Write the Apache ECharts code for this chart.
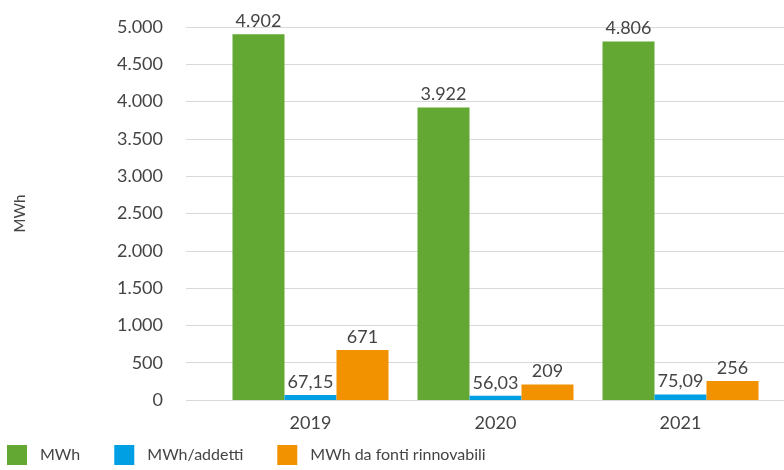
<!DOCTYPE html>
<html>
<head>
<meta charset="utf-8">
<script src="https://cdn.jsdelivr.net/npm/echarts@6/dist/echarts.min.js"></script>
<style>
  html, body { margin: 0; padding: 0; background: #fff; }
  #chart { width: 784px; height: 470px; }
</style>
</head>
<body>
<div id="chart"></div>
<script>
const years = ['2019', '2020', '2021'];
const mwh = [4902, 3922, 4806];
const mwhAddetti = [67.15, 56.03, 75.09];
const mwhRinnovabili = [671, 209, 256];
const yTicks = { min: 0, max: 5000, interval: 500 };

const FONT = 'Lato, "Noto Sans", sans-serif';
const TEXT = '#444';

// formato italiano: 4.902 / 67,15
function fmtIt(v) {
    let parts = (Math.round(v * 100) / 100).toString().split('.');
    let int = parts[0].replace(/\B(?=(\d{3})+(?!\d))/g, '.');
    return parts[1] ? int + ',' + (parts[1].length === 1 ? parts[1] + '0' : parts[1]) : int;
}

const chart = echarts.init(document.getElementById('chart'));

const barLabel = {
    show: true,
    position: 'top',
    distance: 4,
    color: TEXT,
    fontSize: 18,
    fontFamily: FONT,
    formatter: p => fmtIt(p.value)
};

const option = {
    backgroundColor: '#fff',
    animation: false,
    textStyle: { fontFamily: FONT },
    grid: [
        // griglia di sfondo: solo linee ed etichette asse y
        { left: 186, right: 0, top: 27, bottom: 70 },
        // griglia delle barre
        { left: 218, right: 11, top: 27, bottom: 70 }
    ],
    legend: {
        left: 2,
        bottom: 0,
        itemWidth: 20,
        itemHeight: 20,
        itemGap: 34,
        icon: 'rect',
        textStyle: { color: TEXT, fontSize: 16, fontFamily: FONT, padding: [0, 0, 0, 8] },
        data: ['MWh', 'MWh/addetti', 'MWh da fonti rinnovabili']
    },
    xAxis: [
        { gridIndex: 0, type: 'value', show: false, min: 0, max: 1 },
        {
            gridIndex: 1,
            type: 'category',
            data: years,
            axisLine: { show: false },
            axisTick: { show: false },
            axisLabel: { color: TEXT, fontSize: 18, fontFamily: FONT, margin: 14 }
        }
    ],
    yAxis: [
        {
            gridIndex: 0,
            type: 'value',
            min: yTicks.min,
            max: yTicks.max,
            interval: yTicks.interval,
            name: 'MWh',
            nameLocation: 'middle',
            nameGap: 158,
            nameRotate: 90,
            nameTextStyle: { color: TEXT, fontSize: 15, fontFamily: FONT },
            axisLine: { show: false },
            axisTick: { show: false },
            axisLabel: { color: TEXT, fontSize: 18, fontFamily: FONT, margin: 23, formatter: v => fmtIt(v) },
            splitLine: { lineStyle: { color: '#d9d9d9', width: 1 } }
        },
        {
            gridIndex: 1,
            type: 'value',
            min: yTicks.min,
            max: yTicks.max,
            interval: yTicks.interval,
            show: false,
            splitLine: { show: false }
        }
    ],
    series: [
        {
            name: 'MWh',
            type: 'bar',
            xAxisIndex: 1,
            yAxisIndex: 1,
            data: mwh,
            barWidth: 52,
            barGap: '0%',
            itemStyle: { color: '#62a832' },
            label: barLabel
        },
        {
            name: 'MWh/addetti',
            type: 'bar',
            xAxisIndex: 1,
            yAxisIndex: 1,
            data: mwhAddetti,
            barWidth: 52,
            barGap: '0%',
            itemStyle: { color: '#009fe3' },
            label: barLabel
        },
        {
            name: 'MWh da fonti rinnovabili',
            type: 'bar',
            xAxisIndex: 1,
            yAxisIndex: 1,
            data: mwhRinnovabili,
            barWidth: 52,
            barGap: '0%',
            itemStyle: { color: '#f39200' },
            label: barLabel
        }
    ]
};

chart.setOption(option);
</script>
</body>
</html>
